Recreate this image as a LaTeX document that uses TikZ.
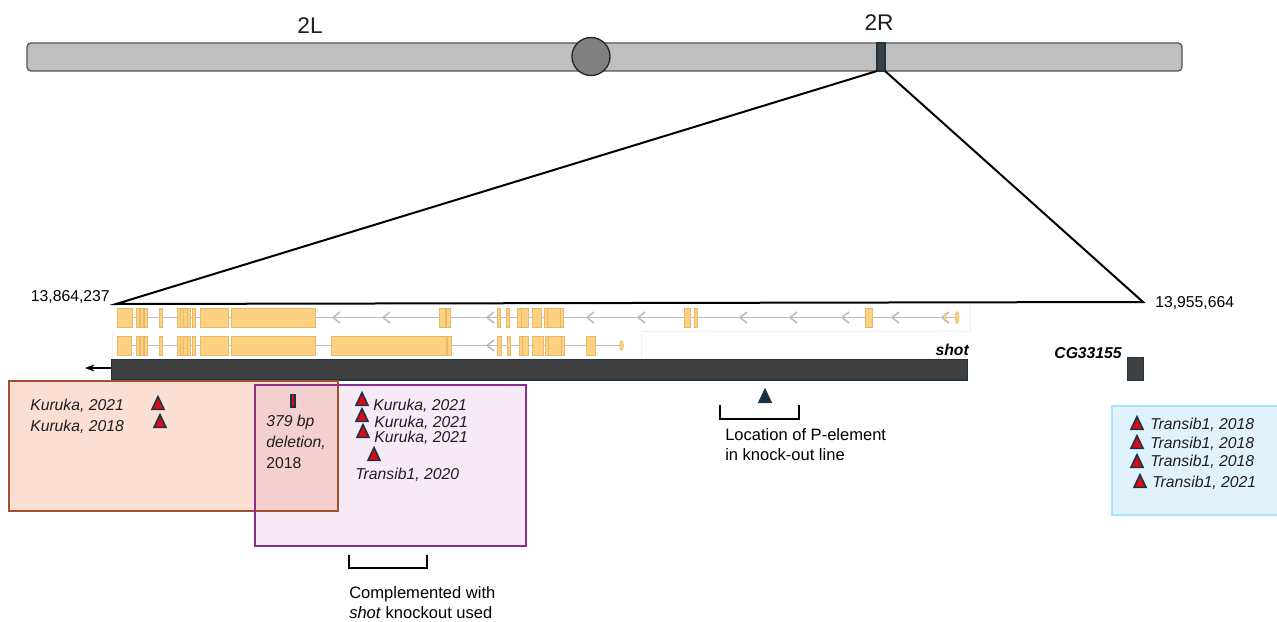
\documentclass[tikz,border=0pt]{standalone}
\usepackage{fontspec}
\setsansfont{Liberation Sans}
\usetikzlibrary{arrows.meta, shapes.geometric}

\begin{document}
\begin{tikzpicture}[
    every node/.style={font=\sffamily},
    plainlabel/.style={font=\sffamily\fontsize{11.8}{14}\selectfont, text=black, anchor=west, inner sep=0pt},
    notelabel/.style={plainlabel, font=\sffamily\fontsize{12.4}{14}\selectfont},
    citelabel/.style={plainlabel, font=\sffamily\itshape\fontsize{11.8}{14}\selectfont, text=textdark},
    genelabel/.style={plainlabel, font=\sffamily\bfseries\itshape\fontsize{11.8}{14}\selectfont},
    armlabel/.style={font=\sffamily\fontsize{17}{20}\selectfont, text=textdark, inner sep=0pt},
    insertion/.style={isosceles triangle, isosceles triangle stretches, shape border rotate=90,
                      minimum width=9pt, minimum height=9.5pt, inner sep=0pt,
                      draw=navy, line width=1.2pt, fill=insred},
    exon/.style={draw=exonline, fill=exonfill, line width=0.4pt},
    intron/.style={draw=introncolor, line width=1.2pt},
    bracket/.style={draw=black, line width=1.1pt},
]

\definecolor{navy}{HTML}{1B3446}
\definecolor{insred}{HTML}{E00812}
\definecolor{textdark}{HTML}{1E1E1E}
\definecolor{armfill}{HTML}{BFBFBF}
\definecolor{armline}{HTML}{555555}
\definecolor{barfill}{HTML}{404040}
\definecolor{exonfill}{HTML}{FCD281}
\definecolor{exonline}{HTML}{E9B96B}
\definecolor{introncolor}{HTML}{BDBDBD}
\definecolor{introntint}{HTML}{C9B4E0}
\definecolor{panelline}{HTML}{EFEFEF}
\definecolor{orangefill}{HTML}{FBDFD2}
\definecolor{orangeline}{HTML}{A0502D}
\definecolor{purplefill}{HTML}{F7EAF7}
\definecolor{purpleline}{HTML}{8A2E8A}
\definecolor{overlapfill}{HTML}{F4CFD0}
\definecolor{bluefill}{HTML}{E0F3FC}
\definecolor{blueline}{HTML}{A9E1F6}

% pixel coordinates of the figure, y runs downwards
\begin{scope}[x=0.75pt, y=-0.75pt]

    \useasboundingbox (0, 0) rectangle (1277, 621);

    % ------------------------------------------------------------ chromosome
    \draw[armline, fill=armfill, line width=1pt, rounded corners=3pt] (27, 43) rectangle (582, 71);
    \draw[armline, fill=armfill, line width=1pt, rounded corners=3pt] (600, 43) rectangle (1182, 71);
    \node[circle, draw=black!85, fill=black!50, line width=1pt, minimum size=28.5pt, inner sep=0pt]
        (centromere) at (591, 56.5) {};
    \draw[navy, fill=barfill, line width=1pt] (877, 43) rectangle (885, 71);
    \coordinate (bandleft) at (877, 71);
    \coordinate (bandright) at (885, 71);

    \node[armlabel] (armleft) at (310, 26) {2L};
    \node[armlabel] (armright) at (879, 23) {2R};

    % ------------------------------------------------------------ zoom lines
    \coordinate (zoomleft) at (116, 304);
    \coordinate (zoomright) at (1143, 302);
    \draw[black, line width=1.5pt, line join=miter] (bandleft) -- (zoomleft) -- (zoomright) -- (bandright);

    \node[plainlabel, anchor=east] (startpos) at (110, 297.5) {13,864,237};
    \node[plainlabel] (endpos) at (1155, 303) {13,955,664};

    % ------------------------------------------------------------ transcripts
    \draw[panelline, line width=0.5pt] (112, 331) -- (112, 358) (641, 333) -- (641, 358)
        (970, 305) -- (970, 331) -- (641, 331);

    \draw[intron] (117, 317.5) -- (957, 317.5);
    \draw[intron] (117, 345.5) -- (622, 345.5);
    \foreach \a/\b in {147/159, 162/177, 195/200, 500/506, 509/517} {
        \draw[introntint, line width=1.2pt] (\a, 317.5) -- (\b, 317.5);
        \draw[introntint, line width=1.2pt] (\a, 345.5) -- (\b, 345.5);
    }
    \foreach \t in {333, 383, 487, 587, 638, 740, 790, 842, 892, 942} {
        \draw[intron] (\t+7, 312) -- (\t, 317.5) -- (\t+7, 323);
    }
    \draw[intron] (494, 340) -- (487, 345.5) -- (494, 351);

    % first transcript
    \foreach \a/\b in {117/132, 136/139, 140/143, 144/147, 159/162, 177/180, 180/183, 183/187, 187/190,
                       192/195, 200/228, 231/315, 439/445, 446/450, 497/500, 506/509, 517/521, 521/528,
                       532/541, 544/547, 547/560, 560/563, 684/690, 694/697, 865/872} {
        \draw[exon] (\a, 308) rectangle (\b, 327);
    }
    \draw[exon] (945, 317.5) ellipse (1.2 and 4);
    \draw[exon] (957, 317.5) ellipse (2 and 6);

    % second transcript
    \foreach \a/\b in {117/131, 136/139, 140/143, 144/147, 159/162, 177/180, 180/183, 183/187, 187/190,
                       192/195, 200/228, 231/315, 331/446, 447/451, 497/501, 507/510, 519/522, 522/528,
                       532/543, 545/548, 548/561, 561/564, 586/595} {
        \draw[exon] (\a, 336) rectangle (\b, 355);
    }
    \draw[exon] (621.5, 345.5) ellipse (2 and 5);

    % ------------------------------------------------------------ gene bars
    \node[genelabel, anchor=east] (shotname) at (969, 349.5) {shot};
    \node[genelabel, anchor=east] (cgname) at (1122, 353.5) {CG33155};

    \node[draw=navy, fill=barfill, line width=1pt, minimum width=642pt, minimum height=15.5pt, inner sep=0pt]
        (shotbar) at (539.5, 369.5) {};
    \node[draw=navy, fill=barfill, line width=1pt, minimum width=12pt, minimum height=17.5pt, inner sep=0pt]
        (cgbar) at (1135.5, 369) {};

    \coordinate (shotdir) at (85, 368);
    \draw[-{Stealth[length=7pt]}, black, line width=1.4pt] (shotbar.west |- shotdir) -- (shotdir);

    % ------------------------------------------------------------ coloured boxes
    \fill[purplefill] (255, 385) rectangle (526, 546);
    \fill[orangefill] (9, 381) rectangle (255, 511);
    \fill[orangefill] (255, 381) rectangle (338, 385);
    \fill[overlapfill] (255, 385) rectangle (338, 511);
    \draw[orangeline, line width=1.2pt] (9, 381) rectangle (338, 511);
    \draw[purpleline, line width=1.2pt] (255, 385) rectangle (526, 546);
    \draw[blueline, fill=bluefill, line width=1.2pt] (1112, 406) rectangle (1279, 515);

    % ------------------------------------------------------------ insertions
    \foreach \n/\x/\y in {a/158/405.5, b/160/423.5,
                          c/362/401.5, d/362/417.5, e/363/433.5, f/374/456.5,
                          g/1137/425.5, h/1137/444.5, i/1137/463.5, j/1140/483.5} {
        \node[insertion] (ins\n) at (\x, \y) {};
    }
    \node[insertion, fill=navy!85!black] (pelement) at (765, 398.5) {};
    \node[draw=navy, fill=insred, line width=1pt, minimum width=3pt, minimum height=9.5pt, inner sep=0pt]
        (deletionmark) at (293, 400.5) {};

    \node[citelabel] (kura) at (30, 406) {Kuruka, 2021};
    \node[citelabel] (kurb) at (30, 427) {Kuruka, 2018};
    \node[citelabel] (kurc) at (373, 406) {Kuruka, 2021};
    \node[citelabel] (kurd) at (374, 423) {Kuruka, 2021};
    \node[citelabel] (kure) at (374, 438) {Kuruka, 2021};
    \node[citelabel] (trana) at (355, 475) {Transib1, 2020};
    \node[citelabel] (tranb) at (1150, 425) {Transib1, 2018};
    \node[citelabel] (tranc) at (1150, 444) {Transib1, 2018};
    \node[citelabel] (trand) at (1150, 462) {Transib1, 2018};
    \node[citelabel] (trane) at (1152, 483) {Transib1, 2021};

    \node[citelabel] (dela) at (266, 422) {379 bp};
    \node[citelabel] (delb) at (266, 443) {deletion,};
    \node[plainlabel, text=textdark] (delc) at (266, 463) {2018};

    % ------------------------------------------------------------ brackets
    \coordinate (brackaleft) at (349, 555);
    \coordinate (brackaright) at (427, 555);
    \draw[bracket] (brackaleft) -- ++(0, 13) -- (brackaright |- 0, 568) -- (brackaright);
    \node[notelabel] (compa) at (349, 594) {Complemented with};
    \node[notelabel] (compb) at (349, 613) {\textit{shot} knockout used};

    \coordinate (brackbleft) at (720, 405);
    \coordinate (brackbright) at (799, 405);
    \draw[bracket] (brackbleft) -- ++(0, 14) -- (brackbright |- 0, 419) -- (brackbright);
    \node[notelabel] (loca) at (725, 435) {Location of P-element};
    \node[notelabel] (locb) at (725, 455) {in knock-out line};

\end{scope}

\end{tikzpicture}
\end{document}
